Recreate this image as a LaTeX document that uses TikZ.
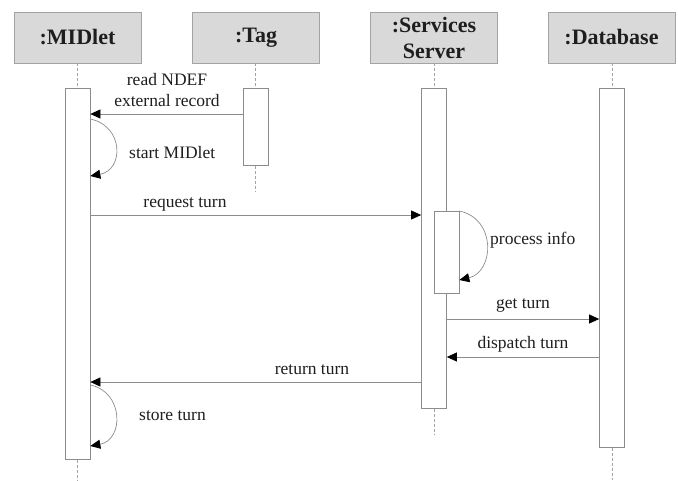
\documentclass[tikz,border=0pt]{standalone}
\usepackage{fontspec}
\setmainfont{Liberation Serif}
\usetikzlibrary{arrows.meta}
\definecolor{hdfill}{HTML}{D9D9D9}
\definecolor{ln}{HTML}{8C8C8C}
\definecolor{txt}{HTML}{1E1E1E}
\begin{document}
\begin{tikzpicture}[x=1pt,y=-1pt,
  head/.style={draw=ln!80,fill=hdfill,line width=0.8pt,minimum width=127pt,minimum height=51pt,inner sep=0pt,
    font=\fontsize{22}{26}\selectfont\bfseries,text=txt,align=center},
  actbox/.style={draw=ln,fill=white,line width=0.7pt,minimum width=25pt,inner sep=0pt,anchor=north},
  life/.style={draw=ln!80,line width=0.7pt,dash pattern=on 3pt off 2pt},
  msg/.style={draw=ln,line width=0.7pt,-{Triangle[length=10pt,width=9pt,color=black]}},
  lbl/.style={font=\fontsize{17.5}{20}\selectfont,text=txt,inner sep=0pt,align=center}]
\useasboundingbox (0,0) rectangle (678,480);
% headers
\node[head] (hM) at (77.5,37.5) {:MIDlet};
\node[head] (hT) at (256,37.5) {:Tag};
\node[head] (hS) at (434,37.5) {:Services\\Server};
\node[head] (hD) at (611.5,37.5) {:Database};
% lifeline ends
\coordinate (eM) at (77.5,480);
\coordinate (eT) at (255.5,191);
\coordinate (eS) at (434,434);
\coordinate (eD) at (612,480);
% activations
\node[actbox,minimum height=371pt] (aM) at (77.5,88) {};
\node[actbox,minimum height=77pt] (aT) at (255.5,88) {};
\node[actbox,minimum height=320pt] (aS) at (434,88) {};
\node[actbox,minimum height=359pt] (aD) at (612,88) {};
\node[actbox,minimum height=82pt] (aS2) at (446.5,211) {};
% lifelines
\draw[life] (hM.south -| aM.north) -- (aM.north);
\draw[life] (aM.south) -- (eM);
\draw[life] (hT.south -| aT.north) -- (aT.north);
\draw[life] (aT.south) -- (eT);
\draw[life] (hS.south -| aS.north) -- (aS.north);
\draw[life] (aS.south) -- (eS);
\draw[life] (hD.south -| aD.north) -- (aD.north);
\draw[life] (aD.south) -- (eD);
% messages
\draw[msg] (aT.west |- 0,114) -- (aM.east |- 0,114);
\node[lbl] (l1) at (167,90) {read NDEF\\[1pt]external record};
\draw[msg] (aM.east |- 0,119) .. controls (124,126) and (124,170) .. (aM.east |- 0,176);
\node[lbl,anchor=west] (l2) at (129,153) {start MIDlet};
\draw[msg] (aM.east |- 0,215) -- (aS.west |- 0,215);
\node[lbl] (l3) at (185,204) {request turn};
\draw[msg] (aS2.north east) .. controls (497,219) and (494,272) .. (aS2.east |- 0,280);
\node[lbl,anchor=west] (l4) at (490,240) {process info};
\draw[msg] (aS.east |- 0,319) -- (aD.west |- 0,319);
\node[lbl] (l5) at (523,305) {get turn};
\draw[msg] (aD.west |- 0,357) -- (aS.east |- 0,357);
\node[lbl] (l6) at (523,344) {dispatch turn};
\draw[msg] (aS.west |- 0,382) -- (aM.east |- 0,382);
\node[lbl] (l7) at (312,370) {return turn};
\draw[msg] (aM.east |- 0,385) .. controls (124,392) and (124,440) .. (aM.east |- 0,446);
\node[lbl,anchor=west] (l8) at (139,416) {store turn};
\end{tikzpicture}
\end{document}
